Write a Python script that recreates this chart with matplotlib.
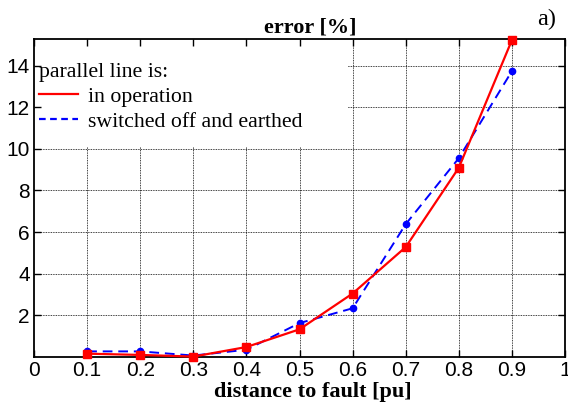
import numpy as np
import matplotlib
matplotlib.use('Agg')
import matplotlib.pyplot as plt
from matplotlib.lines import Line2D
from matplotlib.patches import Rectangle

# distance to fault [pu]
dist = [0.1, 0.2, 0.3, 0.4, 0.5, 0.6, 0.7, 0.8, 0.9]
# error [%], parallel line in operation
err_oper = [0.16, 0.10, 0.02, 0.48, 1.33, 3.05, 5.28, 9.09, 15.22]
# error [%], parallel line switched off and earthed
err_earth = [0.27, 0.27, 0.07, 0.35, 1.63, 2.34, 6.38, 9.55, 13.73]

xticks = [0, 0.1, 0.2, 0.3, 0.4, 0.5, 0.6, 0.7, 0.8, 0.9, 1]
xticklabels = ['0', '0.1', '0.2', '0.3', '0.4', '0.5', '0.6', '0.7', '0.8', '0.9', '1']
yticks = [2, 4, 6, 8, 10, 12, 14]

serif = 'Liberation Serif'
sans = 'Liberation Sans'

fig = plt.figure(figsize=(5.68, 4.05), dpi=100)
ax = fig.add_axes([0.06, 0.1185, 0.9347, 0.784])

ax.set_xlim(0, 1)
ax.set_ylim(0, 15.25)
ax.set_xticks(xticks)
ax.set_xticklabels(xticklabels)
ax.set_yticks(yticks)

# dotted grid drawn by hand so the legend box can hide it but not the ticks
for xv in xticks[1:-1]:
    ax.axvline(xv, color='black', lw=0.6, ls=(0, (1, 1)), zorder=0.5)
for yv in yticks:
    ax.axhline(yv, color='black', lw=0.6, ls=(0, (1, 1)), zorder=0.5)
ax.add_patch(Rectangle((0, 0.66), 0.592, 0.34, transform=ax.transAxes,
                       facecolor='white', edgecolor='none', zorder=0.7))

ax.plot(dist, err_earth, color='blue', ls=(0, (5, 3)), lw=1.4,
        marker='o', ms=4.5, zorder=3, clip_on=False)
ax.plot(dist, err_oper, color='red', ls='-', lw=1.6,
        marker='s', ms=5.5, zorder=4, clip_on=False)

for s in ax.spines.values():
    s.set_linewidth(1.3)
ax.tick_params(direction='in', length=5, width=1, top=True, right=True,
               labelsize=15, pad=3)
for lab in ax.get_xticklabels() + ax.get_yticklabels():
    lab.set_fontfamily(sans)

ax.set_title('error [%]', fontfamily=serif, fontweight='bold', fontsize=16,
             x=0.52, pad=5)
ax.set_xlabel('distance to fault [pu]', fontfamily=serif, fontweight='bold',
              fontsize=16, labelpad=1, x=0.525)
fig.text(0.963, 0.953, 'a)', fontfamily=serif, fontsize=17.5, ha='center', va='center')

handles = [Line2D([], [], color='red', lw=1.6),
           Line2D([], [], color='blue', lw=1.6, ls=(0, (3, 2)))]
leg = ax.legend(handles, ['in operation', 'switched off and earthed'],
                title='parallel line is:', loc='upper left',
                bbox_to_anchor=(0.01, 0.925), frameon=False,
                prop={'family': serif, 'size': 15.7},
                handlelength=1.75, handletextpad=0.46, labelspacing=0.2,
                borderaxespad=0, borderpad=0, alignment='left')
leg.get_title().set_fontfamily(serif)
leg.get_title().set_fontsize(15.7)

fig.savefig('out.png', dpi=100)
